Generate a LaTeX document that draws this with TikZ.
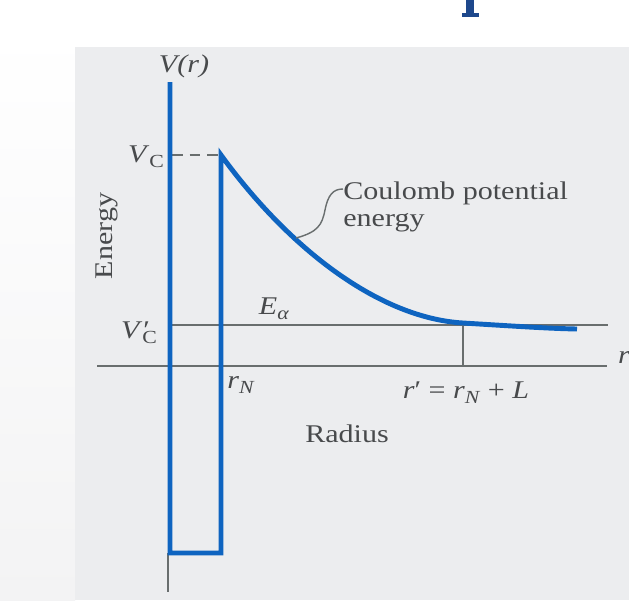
\documentclass[tikz,border=0pt]{standalone}
\usepackage{graphicx}
\usepackage{fontspec}
\setmainfont{Liberation Serif}
\definecolor{lineblue}{RGB}{14,100,192}
\definecolor{axisgray}{RGB}{105,110,110}
\definecolor{labelgray}{RGB}{72,74,76}
\definecolor{panelgray}{RGB}{236,237,239}
\definecolor{margingray}{RGB}{243,243,244}
\definecolor{titleblue}{RGB}{30,72,140}
\newcommand{\stretchtxt}[1]{\scalebox{1.18}[1]{#1}}
\newcommand{\lowr}[1]{\raisebox{-0.45ex}{\fontsize{10.5}{10.5}\selectfont #1}}
\newcommand{\primemark}{\rlap{\kern0.5pt′}}
\tikzset{
  axisline/.style={draw=axisgray, line width=0.8pt},
  potline/.style={draw=lineblue, line width=2.8pt, line join=miter},
  lbl/.style={text=labelgray, font=\fontsize{14.5}{16}\selectfont, inner sep=0pt},
  pointer/.style={draw=axisgray, line width=0.8pt}
}
\begin{document}
\begin{tikzpicture}[x=0.02cm, y=-0.02cm]
\useasboundingbox (0,0) rectangle (629,600);
% background
\fill[white] (0,0) rectangle (629,600);
\shade[top color=white, bottom color=margingray] (0,30) rectangle (75,600);
\fill[panelgray] (75,47) rectangle (629,600);
% cut-off title fragment
\fill[titleblue] (466,0) rectangle (474,14);
\fill[titleblue] (462,13) rectangle (479,17);

% coordinates
\coordinate (vtop) at (170,82);
\coordinate (vbot) at (170,553);
\coordinate (wbot) at (221,553);
\coordinate (wtop) at (221,155);
\coordinate (vc) at (172,155);
\coordinate (cmid) at (463,323);
\coordinate (cend) at (577,329);
\coordinate (ax0) at (97,366);
\coordinate (ax1) at (607,366);
\coordinate (ea0) at (172,325);
\coordinate (ea1) at (608,325);
\coordinate (rp0) at (463,324);
\coordinate (rp1) at (463,366);
\coordinate (gv0) at (168,553);
\coordinate (gv1) at (168,592);
\coordinate (cp) at (296,238);

% axes and thin lines
\path[axisline] (ax0) -- (ax1);
\path[axisline] (ea0) -- (ea1);
\path[axisline] (rp0) -- (rp1);
\path[axisline] (gv0) -- (gv1);
\path[axisline, dash pattern=on 6pt off 4pt] (vc) -- (wtop);

% potential
\path[potline] (vtop) -- (vbot) -- (wbot) -- (wtop)
  .. controls (290,250) and (380,318) .. (cmid)
  .. controls (520,326.5) and (550,328.5) .. (cend);

% labels
\node[lbl] (lVr) at (184,66) {\stretchtxt{\textit{V(r)}}};
\node[lbl] (lVC) at (146,157) {\stretchtxt{\textit{V}\lowr{C}}};
\node[lbl] (lVCp) at (139,333) {\stretchtxt{\textit{V}\primemark\lowr{C}}};
\node[lbl] (lEa) at (274,309) {\stretchtxt{\textit{E}\lowr{\textit{α}}}};
\node[lbl, rotate=90] (lEn) at (107,236) {\stretchtxt{Energy}};
\node[lbl] (lrN) at (241,385) {\stretchtxt{\textit{r}\lowr{\textit{N}}}};
\node[lbl] (lrp) at (466,393) {\stretchtxt{\textit{r}′ = \textit{r}\lowr{\textit{N}} + \textit{L}}};
\node[lbl] (lr) at (624,357) {\stretchtxt{\textit{r}}};
\node[lbl] (lRad) at (347,434) {\stretchtxt{Radius}};
\node[lbl, anchor=west, align=left] (lCou) at (343,207) {\stretchtxt{Coulomb potential}\\[-1pt]\stretchtxt{energy}};

% pointer
\path[pointer] (cp) .. controls (318,232) and (322,225) .. (325,210)
  .. controls (328,195) and (333,189) .. (lCou.west |- 0,189);
\end{tikzpicture}
\end{document}
